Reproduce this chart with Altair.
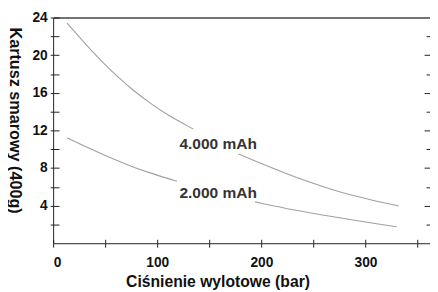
import altair as alt
import pandas as pd

# ---- data ----
up1_x = [13.5, 30.8, 46.5, 62.3, 77.9, 93.7, 109.4, 134.5]
up1_y = [23.4, 21.2, 19.35, 17.65, 16.15, 14.85, 13.65, 12.15]
up2_x = [178, 200, 225, 250, 269, 300, 332]
up2_y = [9.5, 8.45, 7.35, 6.35, 5.65, 4.75, 3.95]
lo1_x = [13.5, 30, 46.5, 62, 77.9, 95, 118.9]
lo1_y = [11.2, 10.33, 9.5, 8.75, 8.05, 7.4, 6.6]
lo2_x = [194, 230, 269, 300, 330]
lo2_y = [4.4, 3.55, 2.8, 2.25, 1.75]

label_text = ["4.000 mAh", "2.000 mAh"]
label_x = [121.3, 121.3]
label_y = [10.0, 4.85]

x_ticks = [0, 50, 100, 150, 200, 250, 300, 350]
y_ticks = [2, 4, 6, 8, 10, 12, 14, 16, 18, 20, 22, 24]
y_minor = [2, 6, 10, 14, 18, 22]
y_major = [4, 8, 12, 16, 20]

rows = []
for series, seg, xs_, ys_ in [
    ("4.000 mAh", "u1", up1_x, up1_y),
    ("4.000 mAh", "u2", up2_x, up2_y),
    ("2.000 mAh", "l1", lo1_x, lo1_y),
    ("2.000 mAh", "l2", lo2_x, lo2_y),
]:
    for a, b in zip(xs_, ys_):
        rows.append({"series": series, "seg": seg, "x": a, "y": b})
df = pd.DataFrame(rows)
labels = pd.DataFrame({"text": label_text, "x": label_x, "y": label_y})

FONT = "Liberation Sans"
xs = alt.Scale(domain=[0, 362], nice=False, zero=False)
ys = alt.Scale(domain=[0, 24], nice=False, zero=False)
LINE = "#222222"

base_axis = dict(grid=False, labelFont=FONT, labelFontWeight="bold", labelFontSize=14,
                 labelColor="#111111", domainColor=LINE, tickColor=LINE,
                 titleFont=FONT, titleFontWeight="bold", titleColor="#111111")

lines = alt.Chart(df).mark_line(color="#a0a0a0", strokeWidth=1.1, interpolate="basis").encode(
    x=alt.X("x:Q", scale=xs, axis=alt.Axis(
        orient="bottom", values=x_ticks, tickSize=4, labelPadding=9,
        labelExpr="datum.value % 100 == 0 ? datum.label : ''",
        title="Ciśnienie wylotowe (bar)", titleFontSize=16, titleX=167.5, titleY=39,
        titleAlign="center", titleBaseline="middle", **base_axis)),
    y=alt.Y("y:Q", scale=ys, axis=alt.Axis(
        orient="left", values=y_ticks, tickSize=3, labelPadding=3,
        labelExpr="datum.value % 4 == 0 ? datum.label : ''",
        title="Kartusz smarowy (400g)", titleFontSize=16.5, titleAngle=90,
        titleX=-39.5, titleY=104.5,
        titleAlign="center", titleBaseline="middle", **base_axis)),
    detail="seg:N",
)

texts = alt.Chart(labels).mark_text(align="left", baseline="alphabetic", font=FONT,
                                     fontSize=15.8, fontWeight="bold", color="#333333").encode(
    x=alt.X("x:Q", scale=xs, axis=alt.Axis(
        orient="bottom", offset=-4, values=x_ticks, tickSize=4, labels=False,
        domain=False, title=None, grid=False, tickColor=LINE)),
    y=alt.Y("y:Q", scale=ys, axis=alt.Axis(
        orient="left", offset=-6, values=y_ticks, tickSize=6, labels=False,
        domain=False, title=None, grid=False, tickColor=LINE)),
    text="text:N",
)

right_minor = alt.Chart(df).mark_line(opacity=0).encode(
    x=alt.X("x:Q", scale=xs, axis=alt.Axis(
        orient="top", ticks=False, labels=False, domain=True, domainColor="#444444",
        domainWidth=1.5, title=None, grid=False)),
    y=alt.Y("y:Q", scale=ys, axis=alt.Axis(
        orient="right", offset=-4, values=y_minor, tickSize=4, labels=False,
        domain=False, title=None, grid=False, tickColor=LINE)),
    detail="seg:N",
)

right_major = alt.Chart(df).mark_line(opacity=0).encode(
    x=alt.X("x:Q", scale=xs, axis=None),
    y=alt.Y("y:Q", scale=ys, axis=alt.Axis(
        orient="right", offset=-6, values=y_major, tickSize=6, labels=False,
        domain=False, title=None, grid=False, tickColor=LINE)),
    detail="seg:N",
)

chart = alt.layer(lines, texts, right_minor, right_major).resolve_axis(
    x="independent", y="independent"
).properties(
    width=384, height=230,
    autosize=alt.AutoSizeParams(type="none"),
    padding={"left": 46, "top": 7, "right": 0, "bottom": 47},
    background="white",
).configure_view(stroke=None)

chart.save("out.html", embed_options={"renderer": "svg", "actions": False})
